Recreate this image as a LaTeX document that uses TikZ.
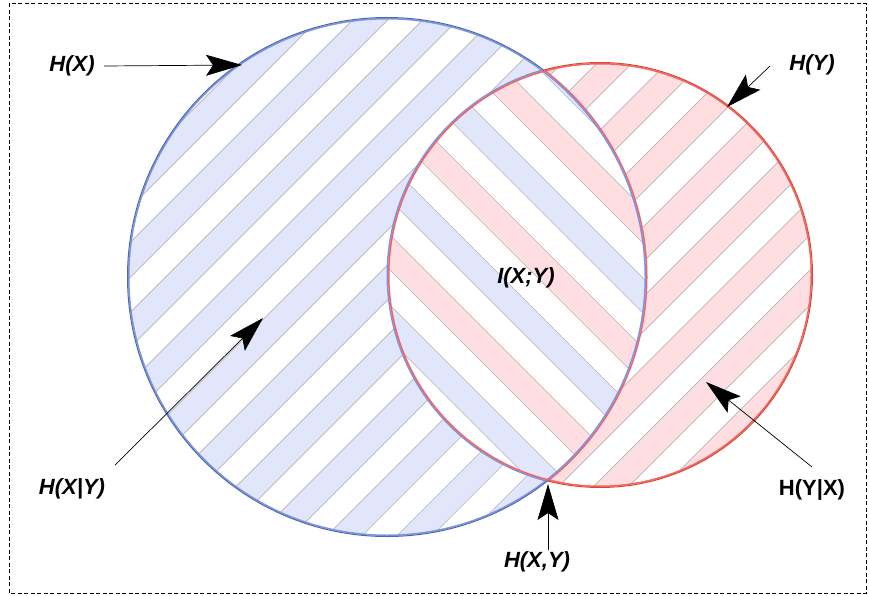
\documentclass[tikz,border=0pt]{standalone}
\usepackage{fontspec}
\setmainfont{Liberation Sans}
\usetikzlibrary{arrows.meta}
\definecolor{bandblue}{HTML}{E1E6FB}
\definecolor{bandpink}{HTML}{FFDEE2}
\definecolor{hatchgray}{HTML}{B4B4B4}
\definecolor{xline}{HTML}{7A94E4}
\definecolor{xdark}{HTML}{4E68A8}
\definecolor{yline}{HTML}{F26464}
\definecolor{ydark}{HTML}{D64A30}

\begin{document}
\begin{tikzpicture}[x=1pt,y=-1pt,
  band/.style={draw=hatchgray, line width=0.65pt},
  lbl/.style={font=\fontsize{22}{24}\selectfont\bfseries\itshape, inner sep=0pt},
  pointer/.style={draw=black, line width=0.7pt,
    -{Stealth[length=36pt,width=21pt,inset=7pt]}},
]
\useasboundingbox (0,0) rectangle (869,596);

% circle centres
\coordinate (cx) at (387,277);
\coordinate (cy) at (600,275);

% H(X): hatched disc, bands rising to the right
\begin{scope}
  \clip (cx) circle[radius=259pt];
  \fill[white] (cx) circle[radius=259pt];
  \begin{scope}[shift={(cx)}, rotate=45]
    \foreach \k in {-6,...,6}
      \path[band, fill=bandblue] (-300,\k*49.5-8) rectangle (300,\k*49.5+16.75);
  \end{scope}
\end{scope}

% H(Y): hatched disc, bands rising to the right
\begin{scope}
  \clip (cy) circle[radius=212pt];
  \fill[white] (cy) circle[radius=212pt];
  \begin{scope}[shift={(cy)}, rotate=45]
    \foreach \k in {-5,...,5}
      \path[band, fill=bandpink] (-260,\k*49.5-3.5) rectangle (260,\k*49.5+21.25);
  \end{scope}
\end{scope}

% overlap I(X;Y): crossing bands, blue and pink in turn
\begin{scope}
  \clip (cx) circle[radius=259pt];
  \clip (cy) circle[radius=212pt];
  \fill[white] (cy) circle[radius=212pt];
  \begin{scope}[shift={(cy)}, rotate=-45]
    \foreach \k in {-3,...,3} {
      \path[band, fill=bandblue] (-260,\k*99-28.3) rectangle (260,\k*99-3.55);
      \path[band, fill=bandpink] (-260,\k*99+21.2) rectangle (260,\k*99+45.95);
    }
  \end{scope}
\end{scope}

% outlines of H(X|Y)
\begin{scope}
  \clip (cx) circle[radius=259pt];
  \begin{scope}[even odd rule]
    \clip (cx) circle[radius=259pt] (cy) circle[radius=212pt];
    \draw[xline, line width=3pt] (cx) circle[radius=259pt] (cy) circle[radius=212pt];
  \end{scope}
\end{scope}

% outlines of H(Y|X)
\begin{scope}
  \clip (cy) circle[radius=212pt];
  \begin{scope}[even odd rule]
    \clip (cx) circle[radius=259pt] (cy) circle[radius=212pt];
    \draw[yline, line width=3pt] (cx) circle[radius=259pt] (cy) circle[radius=212pt];
  \end{scope}
\end{scope}

% outlines of the overlap
\begin{scope}
  \clip (cx) circle[radius=259pt];
  \clip (cy) circle[radius=212pt];
  \draw[xline, line width=3pt] (cx) circle[radius=259pt];
  \draw[yline, line width=3pt] (cy) circle[radius=212pt];
\end{scope}

% darker rims on the outer arcs
\begin{scope}[even odd rule]
  \clip (0,0) rectangle (869,596) (cy) circle[radius=212pt];
  \draw[xdark, line width=1pt] (cx) circle[radius=259.5pt];
\end{scope}
\begin{scope}[even odd rule]
  \clip (0,0) rectangle (869,596) (cx) circle[radius=259pt];
  \draw[ydark, line width=1pt] (cy) circle[radius=212.5pt];
\end{scope}

% labels
\node[lbl] (hx)   at (72,66)   {H(X)};
\node[lbl] (hy)   at (812,65)  {H(Y)};
\node[lbl] (ixy)  at (526,278) {I(X;Y)};
\node[lbl] (hxgy) at (72,489)  {H(X|Y)};
\node[lbl, font=\fontsize{22}{24}\selectfont\bfseries] (hygx) at (812,490) {H(Y|X)};
\node[lbl] (hxy)  at (537,562) {H(X,Y)};

% pointer ends
\coordinate (hxTail)   at (104,66);
\coordinate (hxTip)    at (242,65);
\coordinate (hyTail)   at (770,66);
\coordinate (hyTip)    at (727,107);
\coordinate (hxgyTail) at (115,465);
\coordinate (hxgyTip)  at (263,318);
\coordinate (hygxTail) at (812,467);
\coordinate (hygxTip)  at (706,382);
\coordinate (hxyTail)  at (548,550);
\coordinate (hxyTip)   at (548,484);

\draw[pointer] (hxTail) -- (hxTip);
\draw[pointer] (hyTail) -- (hyTip);
\draw[pointer] (hxgyTail) -- (hxgyTip);
\draw[pointer] (hygxTail) -- (hygxTip);
\draw[pointer] (hxyTail) -- (hxyTip);

% frame
\draw[black, line width=0.9pt, dash pattern=on 4pt off 2.5pt]
  (9.5,3.5) rectangle (866,593);
\end{tikzpicture}
\end{document}
